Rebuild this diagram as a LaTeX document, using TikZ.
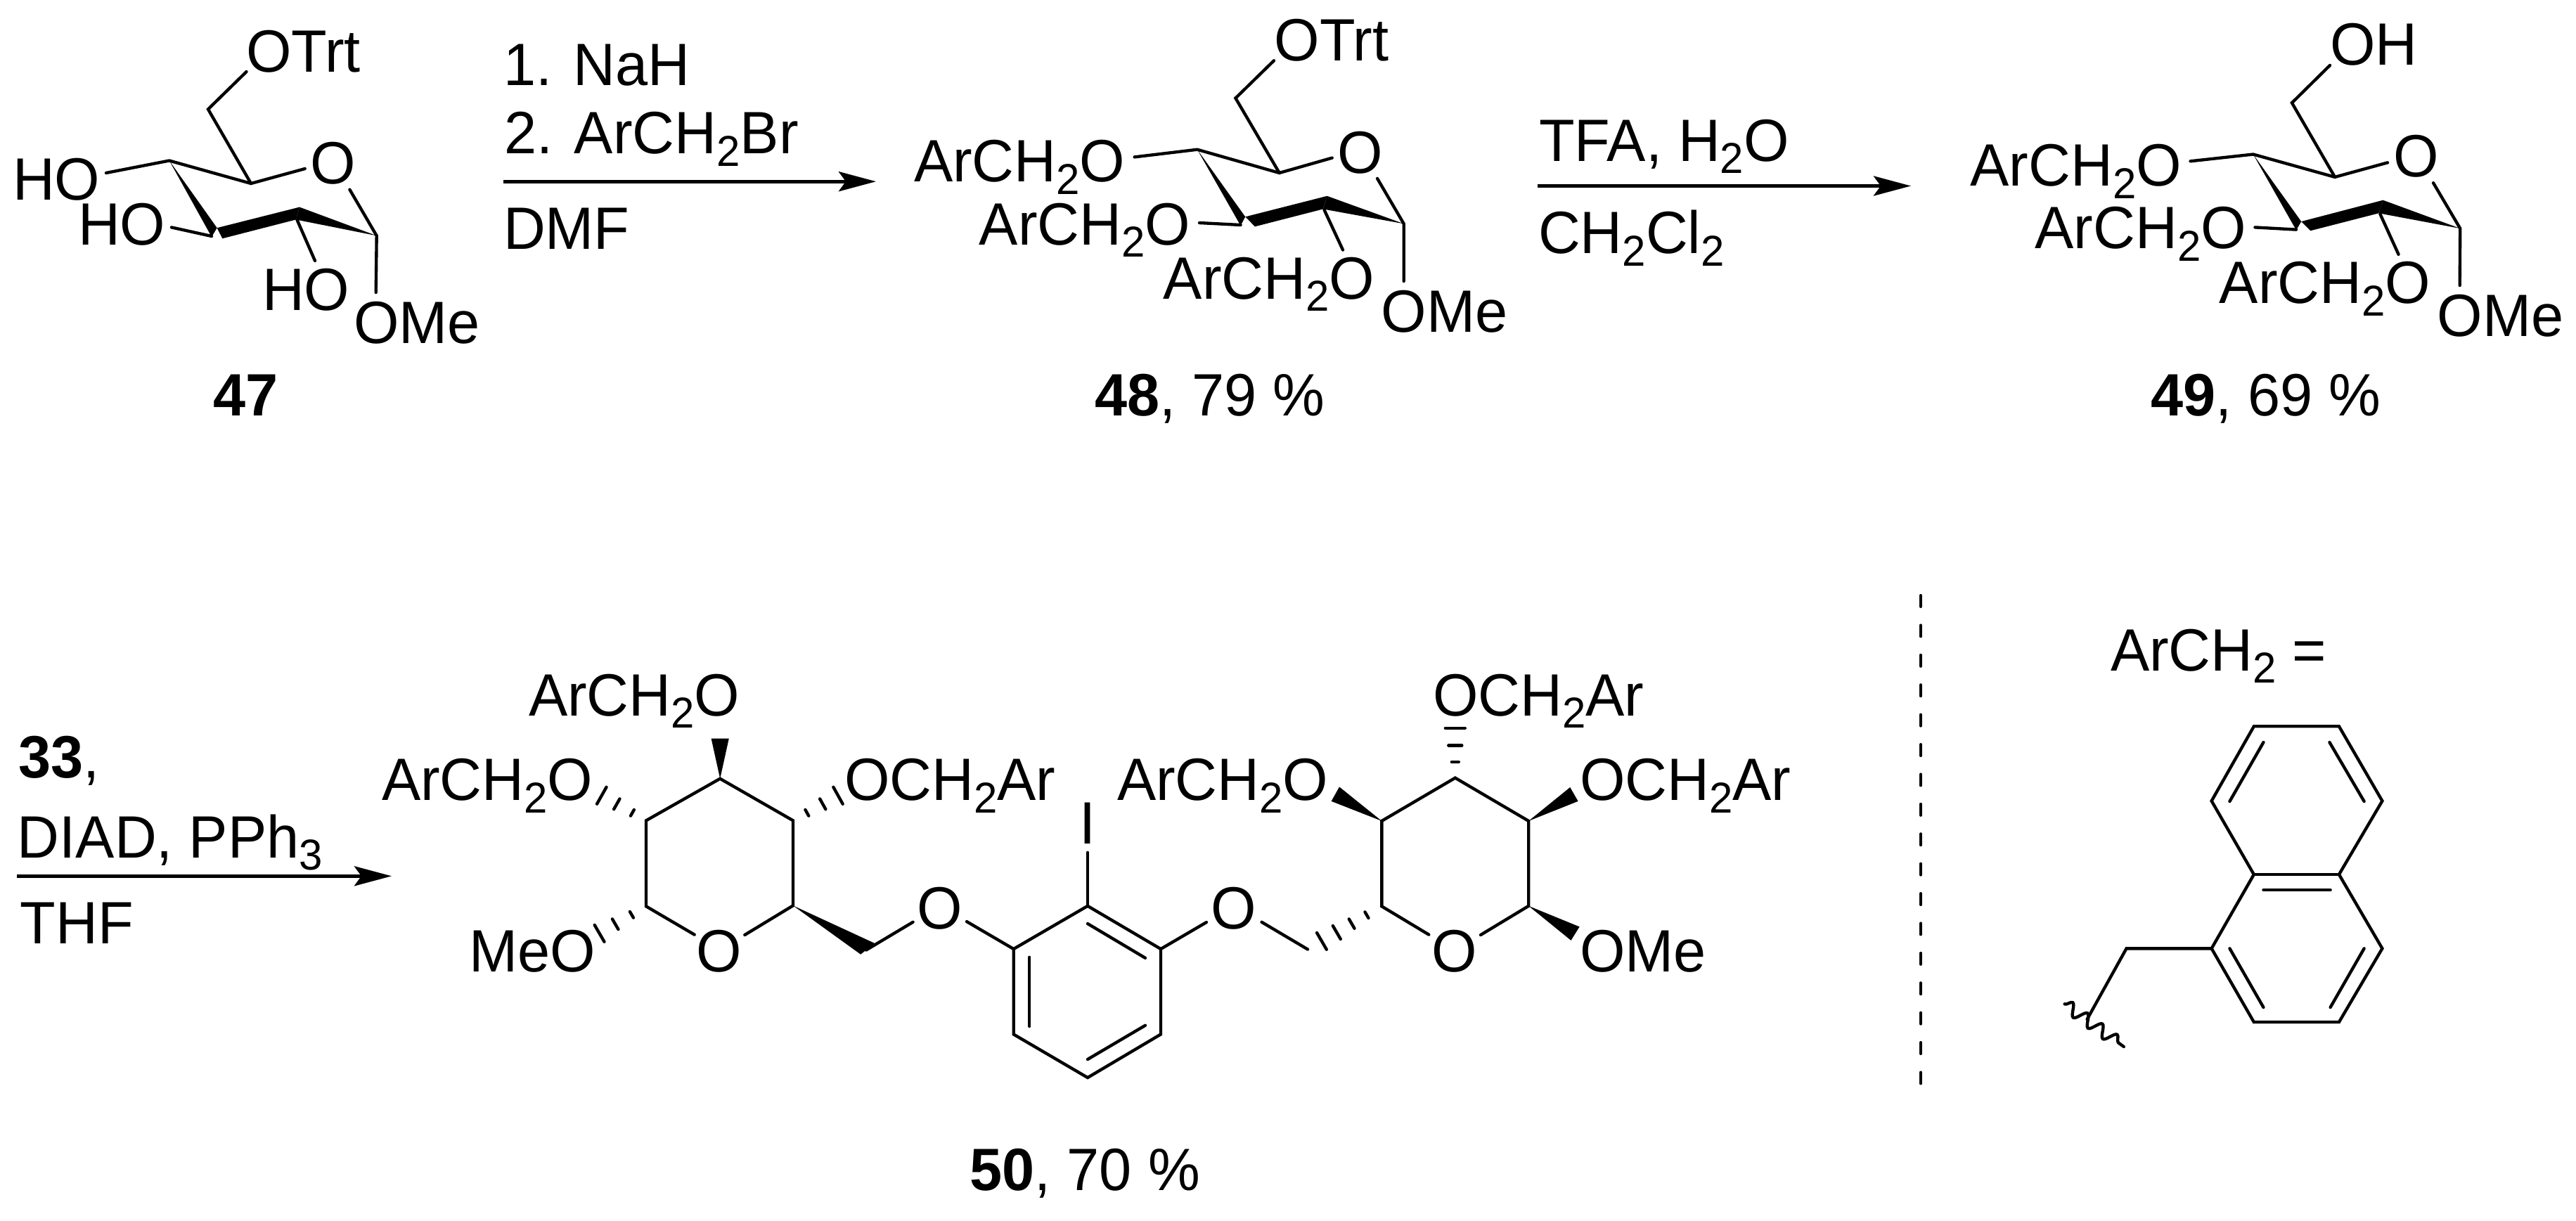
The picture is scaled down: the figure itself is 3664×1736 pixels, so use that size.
\documentclass[tikz,border=0pt]{standalone}
\usepackage{fontspec}
\setmainfont[FakeStretch=0.975]{Liberation Sans}
\usetikzlibrary{arrows.meta}
\usetikzlibrary{calc}
\usetikzlibrary{decorations.pathmorphing}

\newcommand{\subn}[1]{\raisebox{-3.5pt}{\fontsize{12.3}{13}\selectfont #1}}
\newcommand{\hashbond}[3]{%
  \foreach \t/\w in {#3} {
    \coordinate (hashp) at ($(#1)!\t!(#2)$);
    \draw [bond] ($(hashp)!\w pt!90:(#1)$) -- ($(hashp)!\w pt!-90:(#1)$);
  }}
\tikzset{
  lbl/.style={anchor=base west,inner sep=0pt,font=\fontsize{17}{19}\selectfont},
  bond/.style={line width=0.87pt,line cap=round},
  solidbond/.style={fill=black,draw=none},
  rxnarrow/.style={line width=1pt,-{Stealth[length=10.6pt,width=5.6pt,inset=2pt]}},
  sepline/.style={line width=0.8pt,line cap=round,dash pattern={on 3.2pt off 5.28pt}}
}

\begin{document}
\begin{tikzpicture}[x=0.2pt,y=0.2pt,yscale=-1,xscale=1]
\useasboundingbox (0,0) rectangle (3664,1736);

%Shape: sugar 47
\draw [bond] (350.5,102) -- (296,155.4) -- (357,261);
\draw [bond] (151,246) -- (240.8,228.5) -- (357,261) -- (433.7,240);
\fill [solidbond] (240.8,228.5) -- (308.7,324.2) -- (301,337) -- cycle;
\fill [solidbond] (308.7,324.2) -- (316.3,339.3) -- (421,312.4) -- (426,294.6) -- cycle;
\fill [solidbond] (426,294.6) -- (535.7,335.3) -- (421,312.4) -- cycle;
\draw [bond] (243.9,323.4) -- (301,336);
\draw [bond] (422.4,312.4) -- (448,370.9);
\draw [bond] (497.4,269.7) -- (535.7,335.3) -- (534.7,416);

%Shape: sugar 48
\draw [bond] (1812,86.2) -- (1757.4,139.6) -- (1819.7,246);
\draw [bond] (1613.6,223.4) -- (1702.9,212.7) -- (1819.7,246) -- (1894.7,224.6);
\fill [solidbond] (1702.9,212.7) -- (1771.2,308.4) -- (1764.6,321) -- cycle;
\fill [solidbond] (1771.2,308.4) -- (1785,322.3) -- (1881.9,297.4) -- (1887.6,278.8) -- cycle;
\fill [solidbond] (1887.6,278.8) -- (1996.7,318.3) -- (1881.9,297.4) -- cycle;
\draw [bond] (1706,317) -- (1764.6,320);
\draw [bond] (1883.5,298.5) -- (1910,355.5);
\draw [bond] (1959,253.9) -- (1996.7,318.3) -- (1996.7,400);

%Shape: sugar 49
\draw [bond] (3314,92.9) -- (3259.9,146.3) -- (3321,251.9);
\draw [bond] (3115.5,229.3) -- (3204.8,219.5) -- (3321,251.9) -- (3396,231.3);
\fill [solidbond] (3204.8,219.5) -- (3273.2,315.1) -- (3266,327.4) -- cycle;
\fill [solidbond] (3273.2,315.1) -- (3286.4,328.2) -- (3383.4,303.3) -- (3389.5,284.7) -- cycle;
\fill [solidbond] (3389.5,284.7) -- (3499.2,325) -- (3383.4,303.3) -- cycle;
\draw [bond] (3207.4,323.4) -- (3266,326.6);
\draw [bond] (3385.4,304.5) -- (3411.5,361.8);
\draw [bond] (3461,260.2) -- (3499.2,325) -- (3498.7,406);

%Shape: left ring of 50
\draw [bond] (987.7,1329.6) -- (919,1289.3) -- (919,1167.3) -- (1024.2,1107.7) -- (1128,1167.3) -- (1128,1288.3) -- (1059.3,1330);
\fill [solidbond] (1024.2,1107.7) -- (1011.6,1050.5) -- (1036.8,1050.5) -- cycle;
\hashbond{919,1167.3}{855.8,1131.7}{0.31/1,0.66/1.7,1/2.75}
\hashbond{1128,1167.3}{1192,1131.7}{0.31/1,0.66/1.7,1/2.75}
\hashbond{919,1289.3}{852.6,1327.8}{0.31/1,0.66/1.7,1/2.75}
\fill [solidbond] (1128,1288.3) -- (1243.9,1341.8) -- (1224.2,1357.7) -- cycle;
\draw [bond] (1232,1351.5) -- (1298.6,1311.7);

%Shape: benzene of 50
\draw [bond] (1375,1311) -- (1441.7,1350) -- (1547,1288.8) -- (1651,1350) -- (1651,1471.4) -- (1547,1533) -- (1441.7,1471.4) -- (1441.7,1350);
\draw [bond] (1464.2,1361.7) -- (1464.2,1460);
\draw [bond] (1547,1314) -- (1629,1362.8);
\draw [bond] (1629,1458.7) -- (1547,1507);
\draw [bond] (1547,1212.8) -- (1547,1288.8);
\draw [bond] (1651,1350) -- (1716,1312);

%Shape: right ring of 50
\draw [bond] (1794.5,1311.7) -- (1860,1350.5);
\hashbond{1965.3,1289.3}{1879.9,1338.8}{0.25/1,0.5/1.55,0.75/2.2,1/2.75}
\draw [bond] (2032.3,1329.6) -- (1965.3,1289.3) -- (1965.3,1167.9) -- (2069.8,1106.6) -- (2174.2,1167.9) -- (2174.2,1288.8) -- (2106,1330);
\hashbond{2069.8,1106.6}{2069.8,1035.7}{0.32/1,0.65/1.9,1/2.8}
\fill [solidbond] (1965.3,1167.9) -- (1905,1119.4) -- (1893.6,1139.8) -- cycle;
\fill [solidbond] (2174.2,1167.9) -- (2233.2,1120) -- (2244.6,1139.8) -- cycle;
\fill [solidbond] (2174.2,1288.8) -- (2246.6,1318.4) -- (2234.5,1337.8) -- cycle;

%Shape: naphthalene
\draw [bond] (3205.8,1033.3) -- (3326.9,1033.3) -- (3388.4,1139.4) -- (3326.9,1244) -- (3388.4,1349.3) -- (3326.9,1454) -- (3205.8,1454) -- (3145.6,1349.3) -- (3205.8,1244) -- (3145.6,1139.4) -- cycle;
\draw [bond] (3205.8,1244) -- (3326.9,1244);
\draw [bond] (3219.4,1056) -- (3171.4,1140);
\draw [bond] (3313.4,1056) -- (3362.6,1140);
\draw [bond] (3219.4,1266) -- (3314.6,1266);
\draw [bond] (3171.4,1349.3) -- (3219.4,1433);
\draw [bond] (3362.6,1349.3) -- (3314.6,1433);
\draw [bond] (3145.6,1349.3) -- (3024.5,1349.3) -- (2968.6,1450);
\draw [bond,decorate,decoration={snake,amplitude=1.7pt,segment length=5.2pt}] (2936.6,1428.3) -- (3020.8,1489);

%Straight Lines
\draw [sepline] (2732,847) -- (2732,1543);
\coordinate (arrA0) at (716,258.2);
\coordinate (arrA1) at (1246,258.2);
\coordinate (arrB0) at (2187,264.5);
\coordinate (arrB1) at (2718,264.5);
\coordinate (arrC0) at (24,1246.3);
\coordinate (arrC1) at (557,1246.3);
\draw [rxnarrow] (arrA0) -- (arrA1);
\draw [rxnarrow] (arrB0) -- (arrB1);
\draw [rxnarrow] (arrC0) -- (arrC1);

% Text Node
\node (otrtA) [lbl] at (349,102) {OTrt};
\node (oA) [lbl,anchor=base] at (473.5,261) {O};
\node (hoA) [lbl] at (17,284) {HO};
\node (hoB) [lbl] at (110,348) {HO};
\node (hoC) [lbl] at (372,441) {HO};
\node (omeA) [lbl] at (502,488.3) {OMe};
\node (numA) [lbl,font=\fontsize{17}{19}\selectfont\bfseries,anchor=base] at (349.5,591) {47};

\node (reagA) [lbl] at (715,121.8) {1. NaH};
\node (reagB) [lbl] at (716,218.7) {2. ArCH\subn{2}Br};
\node (reagC) [lbl] at (715,354) {DMF};

\node (otrtB) [lbl] at (1811.5,86.2) {OTrt};
\node (oB) [lbl,anchor=base] at (1934.5,246) {O};
\node (arB) [lbl] at (1299,258.5) {ArCH\subn{2}O};
\node (arC) [lbl] at (1391.7,348) {ArCH\subn{2}O};
\node (arD) [lbl] at (1653.9,425) {ArCH\subn{2}O};
\node (omeB) [lbl] at (1963.7,472.5) {OMe};
\node (numB) [lbl] at (1556,591) {\textbf{48}, 79 \%};

\node (reagD) [lbl] at (2188,229.3) {TFA, H\subn{2}O};
\node (reagE) [lbl] at (2187,360.6) {CH\subn{2}Cl\subn{2}};

\node (ohC) [lbl] at (3313,92.9) {OH};
\node (oC) [lbl,anchor=base] at (3436.5,251.9) {O};
\node (arE) [lbl] at (2801.5,264.9) {ArCH\subn{2}O};
\node (arF) [lbl] at (2893.6,353.9) {ArCH\subn{2}O};
\node (arG) [lbl] at (3155.8,431.8) {ArCH\subn{2}O};
\node (omeC) [lbl] at (3465.6,478.5) {OMe};
\node (numC) [lbl] at (3058.4,591) {\textbf{49}, 69 \%};

\node (reagF) [lbl] at (25,1106.7) {\textbf{33},};
\node (reagG) [lbl] at (24,1220) {DIAD, PPh\subn{3}};
\node (reagH) [lbl] at (28,1342.3) {THF};

\node (arH) [lbl] at (751,1018.4) {ArCH\subn{2}O};
\node (arI) [lbl] at (542,1138.8) {ArCH\subn{2}O};
\node (arJ) [lbl] at (1200,1138.8) {OCH\subn{2}Ar};
\node (meoA) [lbl] at (666,1382) {MeO};
\node (oD) [lbl,anchor=base] at (1022.8,1382) {O};
\node (oE) [lbl,anchor=base] at (1336.5,1321) {O};
\node (iodo) [lbl,anchor=base] at (1547,1200) {I};
\node (oF) [lbl,anchor=base] at (1754.3,1321) {O};
\node (arK) [lbl] at (1588,1138.8) {ArCH\subn{2}O};
\node (arL) [lbl] at (2037,1018.4) {OCH\subn{2}Ar};
\node (arM) [lbl] at (2246,1138.8) {OCH\subn{2}Ar};
\node (oG) [lbl,anchor=base] at (2069,1382) {O};
\node (omeD) [lbl] at (2246,1382) {OMe};
\node (numD) [lbl] at (1378.7,1693) {\textbf{50}, 70 \%};

\node (arN) [lbl] at (3001,954) {ArCH\subn{2} =};

\end{tikzpicture}
\end{document}
